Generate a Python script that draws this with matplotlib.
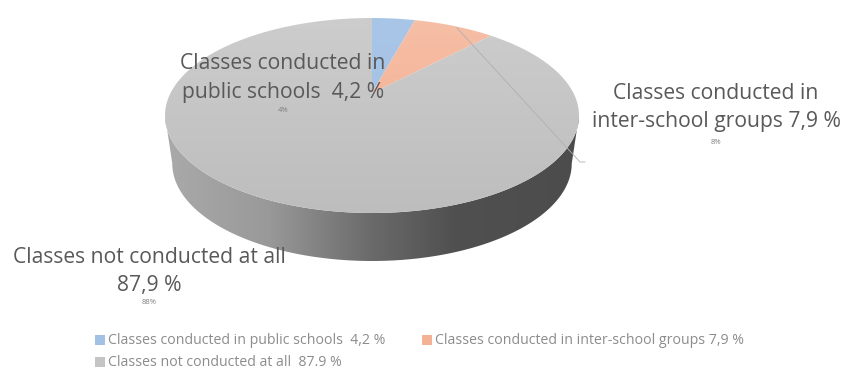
import numpy as np
import matplotlib
matplotlib.use("Agg")
import matplotlib.pyplot as plt
from matplotlib.colors import LinearSegmentedColormap
from matplotlib.patches import Polygon, Rectangle

shares = [4.2, 7.9, 87.9]
slice_labels = ["Classes conducted in\npublic schools  4,2 %",
                "Classes conducted in\ninter-school groups 7,9 %",
                "Classes not conducted at all\n87,9 %"]
pct_labels = ["4%", "8%", "88%"]
legend_labels = ["Classes conducted in public schools  4,2 %",
                 "Classes conducted in inter-school groups 7,9 %",
                 "Classes not conducted at all  87.9 %"]
top_colors = [("#a9c6e8", "#a0bfe3"), ("#f6bfa6", "#f2ab8d"), ("#cdcdcd", "#bdbdbd")]
legend_colors = ["#a3c1e5", "#f4b196", "#c4c4c4"]

# pie sits in pixel coordinates, tilted with a simple perspective
cx, cy = 372, 93
rx, ry, k = 201.4, 92.3, 0.2308
depth = 48
bottom_scale = 0.965
font = "Open Sans"


def rim(t):
    d = 1 + k * np.sin(t)
    return cx + rx * np.cos(t) / d, cy - ry * np.sin(t) / d


def grad_fill(ax, poly, colors, extent, vertical=True, z=2):
    cmap = LinearSegmentedColormap.from_list("g", colors)
    g = np.linspace(0, 1, 256)
    g = g[:, None] if vertical else g[None, :]
    im = ax.imshow(g, cmap=cmap, extent=extent, aspect="auto", zorder=z, vmin=0, vmax=1)
    im.set_clip_path(poly)


fig = plt.figure(figsize=(8.43, 3.70), dpi=100)
ax = fig.add_axes([0, 0, 1, 1])

# side wall, the lower edge is a bit narrower than the top
t0 = np.arcsin(-k)
t = np.linspace(t0, np.pi - t0 - 2 * np.pi, 300)
x, y = rim(t)
low_x = cx + (x - cx) * bottom_scale
wall_pts = np.r_[np.c_[x, y], np.c_[low_x[::-1], y[::-1] + depth]]
wall = Polygon(wall_pts, closed=True, fc="none", ec="none", transform=ax.transData)
ax.add_patch(wall)
wall_stops = [(0.0, "#aaaaaa"), (0.25, "#999999"), (0.5, "#6a6a6a"), (0.7, "#505050"), (1.0, "#4c4c4c")]
grad_fill(ax, wall, wall_stops, (165, 579, 270, 100), vertical=False)

# top slices, clockwise from twelve o'clock
start = np.pi / 2
for share, cols in zip(shares, top_colors):
    end = start - 2 * np.pi * share / sum(shares)
    x, y = rim(np.linspace(start, end, 300))
    pts = np.r_[[[cx, cy]], np.c_[x, y]]
    wedge = Polygon(pts, closed=True, fc="none", ec="none")
    ax.add_patch(wedge)
    grad_fill(ax, wedge, list(cols), (160, 585, 215, 15), z=3)
    start = end

# leader line of the inter-school label
ax.plot([457, 580, 585], [28, 162, 162], color="#b0b0b0", lw=0.6, zorder=4)

# slice labels
ax.text(283, 78, slice_labels[0], family=font, size=15.2, color="#595959", ha="center", va="center", linespacing=1.45, zorder=5)
ax.text(716, 107.5, slice_labels[1], family=font, size=15.2, color="#595959", ha="center", va="center", linespacing=1.45, zorder=5)
ax.text(149, 271.5, slice_labels[2], family=font, size=15.2, color="#595959", ha="center", va="center", linespacing=1.45, zorder=5)
ax.text(283, 111, pct_labels[0], family=font, size=5.5, color="#7f7f7f", ha="center", va="center", zorder=5)
ax.text(716, 142, pct_labels[1], family=font, size=5.5, color="#7f7f7f", ha="center", va="center", zorder=5)
ax.text(149, 303, pct_labels[2], family=font, size=5.5, color="#7f7f7f", ha="center", va="center", zorder=5)

# legend
legend_pos = [(95, 340), (422, 340), (95, 362)]
for (lx, ly), lab, col in zip(legend_pos, legend_labels, legend_colors):
    ax.add_patch(Rectangle((lx, ly - 5), 10, 10, fc=col, ec="none"))
    ax.text(lx + 13, ly, lab, family=font, size=10.15, color="#8c8c8c", ha="left", va="center")

ax.set_xlim(0, 843)
ax.set_ylim(370, 0)
ax.axis("off")
fig.savefig("out.png", dpi=100)
